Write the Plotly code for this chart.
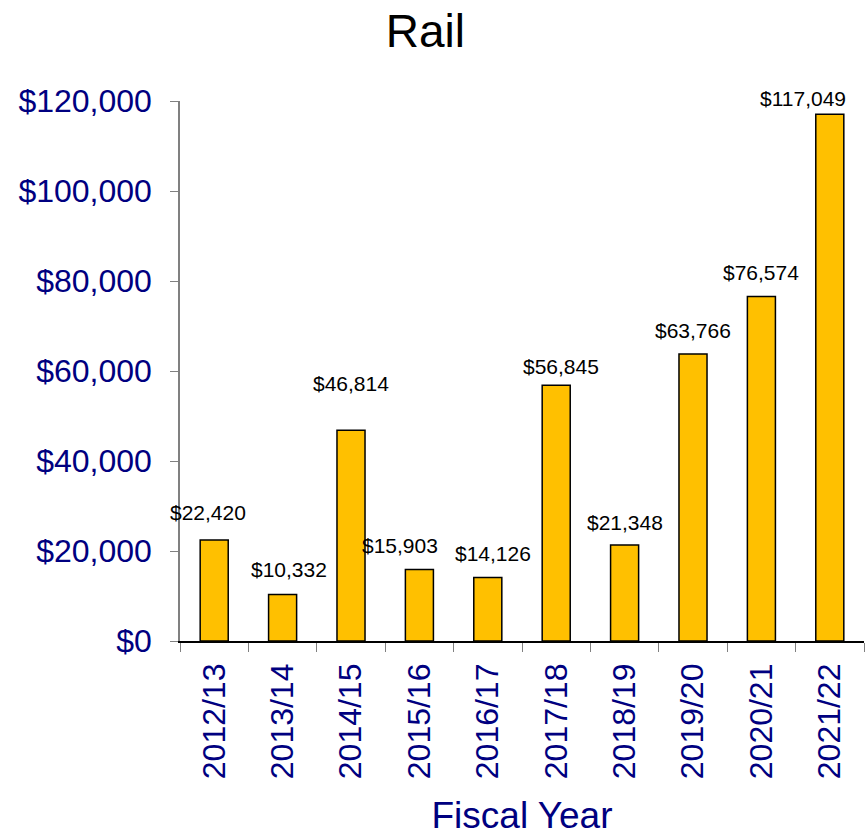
import plotly.graph_objects as go

years = ['2012/13', '2013/14', '2014/15', '2015/16', '2016/17',
         '2017/18', '2018/19', '2019/20', '2020/21', '2021/22']
amounts = [22420, 10332, 46814, 15903, 14126, 56845, 21348, 63766, 76574, 117049]

# label offsets (px) to mimic the original placement
label_yshift = [28, 25, 47, 24, 24, 19, 22, 24, 24, 16]
label_xshift = [-6, 6, 0, -19, 5, 5, 0, 0, 0, -27]

NAVY = '#000080'
FONT = 'Liberation Sans, Arial, sans-serif'

fig = go.Figure()

fig.add_trace(go.Bar(
    x=years,
    y=amounts,
    marker=dict(color='#FFC000', line=dict(color='black', width=1.5)),
    hoverinfo='x+y'
))

for yr, amt, dy, dx in zip(years, amounts, label_yshift, label_xshift):
    fig.add_annotation(
        x=yr, y=amt, text=f'${amt:,}',
        showarrow=False, yanchor='middle', yshift=dy, xshift=dx,
        font=dict(size=21, color='black', family=FONT)
    )

fig.update_layout(
    title=dict(text='Rail', x=0.49, xanchor='center', y=0.963, yanchor='middle',
               font=dict(size=46, color='black', family=FONT)),
    width=868,
    height=836,
    margin=dict(l=180, r=4, t=101, b=195),
    paper_bgcolor='white',
    plot_bgcolor='white',
    bargap=0.59,
    showlegend=False,
    font=dict(family=FONT),
    xaxis=dict(
        title=dict(text='Fiscal Year', font=dict(size=37, color=NAVY), standoff=27),
        range=[-0.5, len(years) - 0.5],
        tickangle=-90,
        tickfont=dict(size=32, color=NAVY),
        ticklabelstandoff=8,
        showline=True, linecolor='black', linewidth=1.5,
        ticks='outside', tickson='boundaries', ticklen=9, tickcolor='#808080',
        showgrid=False, automargin=False
    ),
    yaxis=dict(
        range=[0, 120000],
        dtick=20000,
        tickprefix='$',
        tickformat=',',
        tickfont=dict(size=32, color=NAVY),
        ticklabelstandoff=12,
        showline=True, linecolor='#808080', linewidth=1.5,
        ticks='outside', ticklen=8, tickcolor='#808080',
        showgrid=False, zeroline=False, automargin=False
    )
)

# drop the default page margin so the figure fills the window exactly
fig.write_html("out.html", config={'displayModeBar': False},
               post_script="document.body.style.margin = '0';")
